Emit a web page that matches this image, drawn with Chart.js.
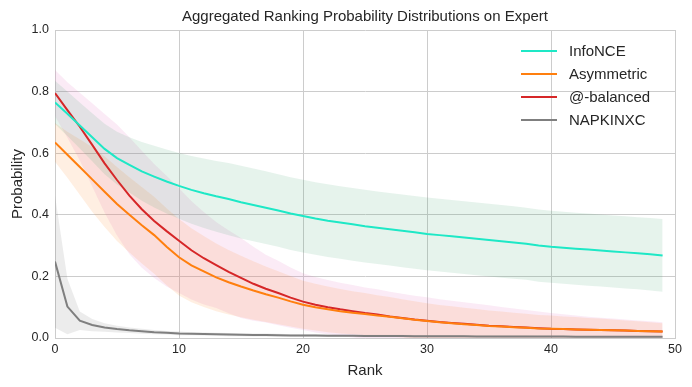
<!DOCTYPE html>
<html>
<head>
<meta charset="utf-8">
<script src="https://cdn.jsdelivr.net/npm/chart.js@4/dist/chart.umd.min.js"></script>
<style>
  body { margin: 0; background: #fff; }
  #wrap { position: relative; width: 692px; height: 387px; }
  #legend { position: absolute; left: 521px; top: 39px; font-family: "Liberation Sans", Arial, sans-serif; font-size: 15px; color: #262626; }
  .row { height: 23px; display: flex; align-items: center; }
  .swatch { width: 36px; height: 2px; margin-right: 12px; }
</style>
</head>
<body>
<div id="wrap">
  <canvas id="chart" width="692" height="387"></canvas>
  <div id="legend"></div>
</div>
<script>
const ranks = Array.from({ length: 50 }, (_, i) => i);

const seriesNames = ['InfoNCE', 'Asymmetric', '@-balanced', 'NAPKINXC'];
const lineColors = ['#1ee8c6', '#ff7f0e', '#d62728', '#7f7f7f'];
const bandColors = ['rgba(46,160,100,0.12)', 'rgba(255,127,14,0.12)', 'rgba(227,119,194,0.15)', 'rgba(127,127,127,0.15)'];

const infoMean = [0.765, 0.728, 0.690, 0.652, 0.614, 0.584, 0.562, 0.541, 0.524, 0.508,
  0.494, 0.481, 0.470, 0.460, 0.451, 0.441, 0.432, 0.423, 0.414, 0.404,
  0.396, 0.388, 0.381, 0.375, 0.369, 0.363, 0.358, 0.353, 0.348, 0.343,
  0.338, 0.334, 0.330, 0.326, 0.322, 0.318, 0.314, 0.310, 0.306, 0.300,
  0.296, 0.293, 0.290, 0.287, 0.284, 0.281, 0.278, 0.275, 0.272, 0.268];
const infoStd = [0.070, 0.072, 0.075, 0.078, 0.082, 0.086, 0.090, 0.095, 0.100, 0.104,
  0.107, 0.110, 0.113, 0.115, 0.117, 0.118, 0.118, 0.118, 0.118, 0.118,
  0.118, 0.118, 0.118, 0.118, 0.118, 0.118, 0.118, 0.118, 0.118, 0.118,
  0.118, 0.118, 0.118, 0.118, 0.118, 0.118, 0.118, 0.118, 0.117, 0.117,
  0.117, 0.117, 0.117, 0.117, 0.117, 0.117, 0.117, 0.117, 0.118, 0.118];

const asymMean = [0.635, 0.595, 0.555, 0.515, 0.475, 0.435, 0.400, 0.366, 0.334, 0.296,
  0.262, 0.236, 0.216, 0.197, 0.181, 0.167, 0.154, 0.142, 0.131, 0.119,
  0.108, 0.100, 0.093, 0.087, 0.082, 0.078, 0.073, 0.069, 0.064, 0.059,
  0.055, 0.051, 0.048, 0.045, 0.042, 0.039, 0.037, 0.035, 0.033, 0.031,
  0.030, 0.029, 0.028, 0.027, 0.026, 0.025, 0.024, 0.023, 0.022, 0.021];
const asymStd = [0.063, 0.075, 0.090, 0.105, 0.115, 0.120, 0.122, 0.124, 0.125, 0.125,
  0.124, 0.120, 0.115, 0.110, 0.105, 0.100, 0.095, 0.090, 0.086, 0.082,
  0.078, 0.076, 0.074, 0.072, 0.070, 0.068, 0.066, 0.064, 0.062, 0.060,
  0.058, 0.056, 0.055, 0.053, 0.052, 0.050, 0.049, 0.047, 0.046, 0.044,
  0.043, 0.041, 0.040, 0.038, 0.037, 0.035, 0.033, 0.031, 0.029, 0.027];

const balMean = [0.795, 0.740, 0.686, 0.627, 0.567, 0.513, 0.462, 0.418, 0.380, 0.347,
  0.316, 0.285, 0.259, 0.237, 0.215, 0.195, 0.176, 0.160, 0.146, 0.131,
  0.118, 0.108, 0.100, 0.093, 0.087, 0.081, 0.076, 0.070, 0.065, 0.060,
  0.056, 0.052, 0.049, 0.046, 0.043, 0.040, 0.038, 0.036, 0.034, 0.032,
  0.030, 0.029, 0.028, 0.027, 0.026, 0.025, 0.024, 0.023, 0.022, 0.021];
const balStd = [0.075, 0.090, 0.110, 0.135, 0.160, 0.180, 0.190, 0.190, 0.185, 0.180,
  0.170, 0.160, 0.150, 0.140, 0.135, 0.130, 0.120, 0.110, 0.105, 0.098,
  0.092, 0.090, 0.088, 0.086, 0.085, 0.083, 0.082, 0.080, 0.079, 0.077,
  0.076, 0.074, 0.072, 0.070, 0.068, 0.066, 0.063, 0.060, 0.057, 0.054,
  0.051, 0.048, 0.045, 0.042, 0.040, 0.038, 0.036, 0.034, 0.032, 0.030];

const napMean = [0.248, 0.102, 0.056, 0.042, 0.034, 0.029, 0.025, 0.022, 0.019, 0.017,
  0.015, 0.014, 0.013, 0.012, 0.011, 0.0105, 0.010, 0.0095, 0.009, 0.0085,
  0.008, 0.0078, 0.0075, 0.0072, 0.007, 0.0068, 0.0066, 0.0064, 0.0062, 0.006,
  0.0058, 0.0057, 0.0055, 0.0054, 0.0052, 0.0051, 0.005, 0.0049, 0.0048, 0.0047,
  0.0046, 0.0045, 0.0044, 0.0043, 0.0042, 0.0041, 0.004, 0.0039, 0.0038, 0.0037];
const napStd = [0.215, 0.090, 0.030, 0.020, 0.014, 0.011, 0.009, 0.008, 0.007, 0.006,
  0.006, 0.005, 0.005, 0.005, 0.005, 0.005, 0.005, 0.005, 0.005, 0.004,
  0.004, 0.004, 0.004, 0.004, 0.004, 0.004, 0.004, 0.004, 0.004, 0.004,
  0.004, 0.004, 0.004, 0.004, 0.003, 0.003, 0.003, 0.003, 0.003, 0.003,
  0.003, 0.003, 0.003, 0.003, 0.003, 0.003, 0.003, 0.003, 0.003, 0.003];

const xTicks = [0, 10, 20, 30, 40, 50];
const yTicks = [0, 0.2, 0.4, 0.6, 0.8, 1.0];

const means = [infoMean, asymMean, balMean, napMean];
const stds = [infoStd, asymStd, balStd, napStd];

const font = '"Liberation Sans", Arial, sans-serif';
const textColor = '#262626';
const gridColor = '#cccccc';

function points(values) {
    return values.map((v, i) => ({ x: ranks[i], y: v }));
}

const datasets = [];
// mean lines first so they draw on top
seriesNames.forEach((name, i) => {
    datasets.push({
        label: name,
        data: points(means[i]),
        borderColor: lineColors[i],
        borderWidth: 2,
        pointRadius: 0,
        fill: false,
        order: 0
    });
});
// std bands: upper edge, then lower edge filled to the previous one
seriesNames.forEach((name, i) => {
    datasets.push({
        label: '_band',
        data: points(means[i].map((m, k) => m + stds[i][k])),
        borderColor: 'transparent',
        borderWidth: 0,
        pointRadius: 0,
        fill: false,
        order: 1
    });
    datasets.push({
        label: '_band',
        data: points(means[i].map((m, k) => m - stds[i][k])),
        borderColor: 'transparent',
        borderWidth: 0,
        pointRadius: 0,
        backgroundColor: bandColors[i],
        fill: '-1',
        order: 1
    });
});

new Chart(document.getElementById('chart'), {
    type: 'line',
    data: { datasets },
    options: {
        responsive: false,
        animation: false,
        layout: { padding: { left: 0, right: 17, top: 0, bottom: 0 } },
        plugins: {
            legend: { display: false },
            tooltip: { enabled: false },
            title: {
                display: true,
                text: 'Aggregated Ranking Probability Distributions on Expert',
                color: textColor,
                font: { family: font, size: 15, weight: 'normal' },
                padding: { top: 8, bottom: 4 },
                fullSize: false
            }
        },
        scales: {
            x: {
                type: 'linear',
                min: 0,
                max: 50,
                afterBuildTicks: s => { s.ticks = xTicks.map(v => ({ value: v })); },
                afterFit: s => { s.height = 49; },
                ticks: { color: textColor, font: { family: font, size: 12.5 }, padding: 4, maxRotation: 0 },
                grid: { color: gridColor, drawTicks: false },
                border: { color: gridColor },
                title: { display: true, text: 'Rank', color: textColor, font: { family: font, size: 15 }, padding: { top: 7, bottom: 7 } }
            },
            y: {
                min: 0,
                max: 1,
                afterBuildTicks: s => { s.ticks = yTicks.map(v => ({ value: v })); },
                afterFit: s => { s.width = 55; },
                ticks: { color: textColor, font: { family: font, size: 12.5 }, padding: 6, callback: v => v.toFixed(1) },
                grid: { color: gridColor, drawTicks: false },
                border: { color: gridColor },
                title: { display: true, text: 'Probability', color: textColor, font: { family: font, size: 15 }, padding: { top: 9, bottom: 9 } }
            }
        }
    }
});

// legend in the top right corner of the plot, no frame
const legend = document.getElementById('legend');
seriesNames.forEach((name, i) => {
    const row = document.createElement('div');
    row.className = 'row';
    row.innerHTML = `<div class="swatch" style="background:${lineColors[i]}"></div><span>${name}</span>`;
    legend.appendChild(row);
});
</script>
</body>
</html>
